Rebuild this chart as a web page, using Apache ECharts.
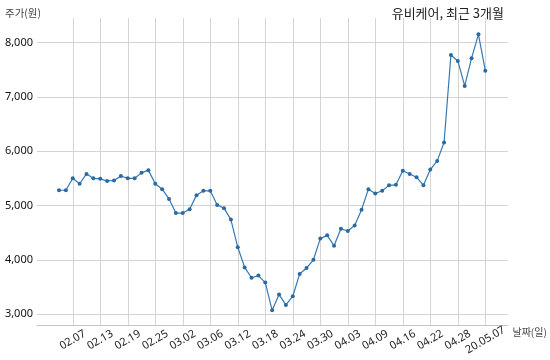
<!DOCTYPE html>
<html>
<head>
<meta charset="utf-8">
<script src="https://cdn.jsdelivr.net/npm/echarts@6/dist/echarts.min.js"></script>
<style>html,body{margin:0;padding:0;background:#fff}#c{width:550px;height:360px}</style>
</head>
<body>
<div id="c"></div>
<script>
var dates = ['02.05','02.06','02.07','02.10','02.11','02.12','02.13','02.14','02.17','02.18','02.19','02.20','02.21','02.24','02.25','02.26','02.27','02.28','03.02','03.03','03.04','03.05','03.06','03.09','03.10','03.11','03.12','03.13','03.16','03.17','03.18','03.19','03.20','03.23','03.24','03.25','03.26','03.27','03.30','03.31','04.01','04.02','04.03','04.06','04.07','04.08','04.09','04.10','04.13','04.14','04.16','04.17','04.20','04.21','04.22','04.23','04.24','04.27','04.28','04.29','05.04','05.06','05.07'];
var prices = [5280,5280,5500,5400,5580,5500,5490,5450,5460,5540,5500,5500,5600,5650,5400,5300,5120,4860,4860,4930,5190,5270,5270,5010,4950,4740,4230,3860,3670,3710,3580,3070,3360,3170,3330,3740,3850,4000,4390,4450,4260,4570,4530,4630,4920,5300,5220,5270,5370,5380,5640,5580,5520,5370,5660,5820,6160,7770,7660,7200,7710,8150,7480];
var tickIndex = [2,6,10,14,18,22,26,30,34,38,42,46,50,54,58,62];
var tickLabels = ['02.07','02.13','02.19','02.25','03.02','03.06','03.12','03.18','03.24','03.30','04.03','04.09','04.16','04.22','04.28','20.05.07'];
var yTicks = [3000,4000,5000,6000,7000,8000];

var seriesData = prices.map(function(v, i){ return [i, v]; });
var chart = echarts.init(document.getElementById('c'), null, {renderer:'canvas'});
var ff = '"Noto Sans", "Noto Sans CJK KR", sans-serif';
var kf = '"Noto Sans CJK KR", sans-serif';
chart.setOption({
  animation: false,
  backgroundColor: '#fff',
  title: [{
    text: '유비케어, 최근 3개월',
    right: 41, top: 2,
    textStyle: {fontFamily: kf, fontSize: 13, fontWeight: 'normal', color: '#222'}
  }, {
    text: '주가(원)',
    left: 0, top: 3,
    textStyle: {fontFamily: kf, fontSize: 10.5, fontWeight: 'normal', color: '#444'}
  }],
  grid: {left: 37, right: 42, top: 18, bottom: 35},
  xAxis: {
    type: 'value',
    min: -3.2, max: 65.3,
    name: '날짜(일)',
    nameLocation: 'end',
    nameGap: 4,
    nameTextStyle: {fontFamily: kf, fontSize: 10, color: '#444', verticalAlign: 'top', padding: [2,0,0,0]},
    axisLine: {show: true, lineStyle: {color: '#c4c4c4', width: 1}},
    axisTick: {show: false, customValues: tickIndex},
    splitLine: {show: true, lineStyle: {color: '#d4d4d4', width: 1}},
    axisLabel: {
      customValues: tickIndex,
      rotate: 30,
      align: 'center',
      verticalAlign: 'middle',
      margin: 15,
      fontFamily: ff, fontSize: 11, color: '#222',
      formatter: function(v){ var k = tickIndex.indexOf(Math.round(v)); return k >= 0 ? tickLabels[k] : ''; }
    }
  },
  yAxis: {
    type: 'value',
    min: 2800, max: 8450,
    axisLine: {show: false},
    axisTick: {show: false, customValues: yTicks},
    splitLine: {show: true, lineStyle: {color: '#d4d4d4', width: 1}},
    axisLabel: {
      customValues: yTicks,
      margin: 4,
      fontFamily: ff, fontSize: 11, color: '#111',
      formatter: function(v){ return v.toLocaleString('en-US'); }
    }
  },
  series: [{
    type: 'line',
    data: seriesData,
    symbol: 'circle',
    symbolSize: 4,
    showSymbol: true,
    lineStyle: {color: '#3479b3', width: 1.2},
    itemStyle: {color: '#2a6aa0'}
  }]
});
</script>
</body>
</html>
